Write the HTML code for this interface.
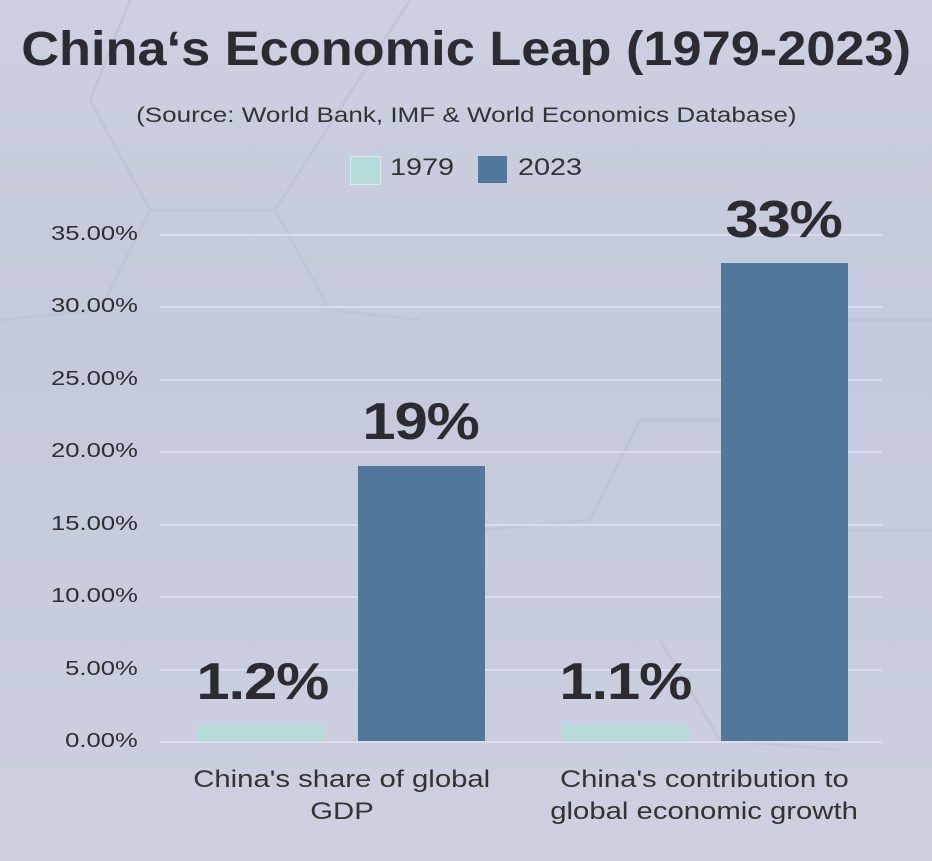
<!DOCTYPE html>
<html><head><style>
body{margin:0;width:932px;height:861px;overflow:hidden;background:linear-gradient(180deg,#ccd0e0 0%,#c4c9db 40%,#ccd0df 100%);font-family:"Liberation Sans",sans-serif;color:#2b2b30;position:relative}
.a{position:absolute}
.s{display:inline-block;transform-origin:center}
.g{position:absolute;left:160px;width:722px;height:2px;background:#d9dcea}
.y{position:absolute;left:10px;width:128px;text-align:right;font-size:20px;color:#2e2e34}
.y span{display:inline-block;transform:scaleX(1.28);transform-origin:right}
.v{position:absolute;font-weight:bold;font-size:52px;text-align:center;width:200px;color:#2b2b30;letter-spacing:-1px}
.v span{display:inline-block;transform:scaleX(1.15)}
.c{position:absolute;font-size:24px;text-align:center;width:360px;line-height:32px;color:#333}
.c span{display:inline-block;transform:scaleX(1.22)}
.l{display:inline-block;transform:scaleX(1.2);transform-origin:left}
</style></head><body>
<svg class="a" style="left:0;top:0" width="932" height="861"><g stroke="#bcc0d4" stroke-width="3" fill="none" opacity="0.6">
<path d="M150 210 L275 210 L320 140 L410 0"/><path d="M150 210 L90 100 L130 0"/><path d="M150 210 L100 310 L0 320"/><path d="M275 210 L330 310 L420 320"/><path d="M640 420 L760 420 L820 320 L932 320"/><path d="M640 420 L590 520 L480 530"/><path d="M760 420 L820 530 L932 530"/><path d="M480 530 L420 640"/><path d="M660 640 L720 740 L840 750"/></g></svg>
<div class="a" style="left:0;top:22px;width:932px;text-align:center;font-weight:bold;font-size:48px;color:#2b2b30"><span class="s" style="transform:scaleX(1.09)">China‘s Economic Leap (1979-2023)</span></div>
<div class="a" style="left:0;top:104px;width:932px;text-align:center;font-size:21px;color:#333"><span class="s" style="transform:scaleX(1.24)">(Source: World Bank, IMF &amp; World Economics Database)</span></div>
<div class="a" style="left:350px;top:156px;width:29px;height:27px;background:#b5dcd8;border:1px solid #d8ecea"></div>
<div class="a" style="left:390px;top:154px;font-size:24px;color:#333"><span class="l">1979</span></div>
<div class="a" style="left:478px;top:156px;width:29px;height:27px;background:#50789b"></div>
<div class="a" style="left:518px;top:154px;font-size:24px;color:#333"><span class="l">2023</span></div>
<div class="g" style="top:234px"></div><div class="g" style="top:306px"></div><div class="g" style="top:379px"></div><div class="g" style="top:451px"></div><div class="g" style="top:524px"></div><div class="g" style="top:596px"></div><div class="g" style="top:669px"></div><div class="g" style="top:741px"></div>
<div class="y" style="top:223px"><span>35.00%</span></div><div class="y" style="top:295px"><span>30.00%</span></div><div class="y" style="top:368px"><span>25.00%</span></div><div class="y" style="top:440px"><span>20.00%</span></div><div class="y" style="top:513px"><span>15.00%</span></div><div class="y" style="top:585px"><span>10.00%</span></div><div class="y" style="top:658px"><span>5.00%</span></div><div class="y" style="top:730px"><span>0.00%</span></div>
<div class="a" style="left:198px;top:724px;width:127px;height:17px;background:#b5dcd8"></div>
<div class="a" style="left:358px;top:466px;width:127px;height:275px;background:#50789b"></div>
<div class="a" style="left:562px;top:724px;width:127px;height:17px;background:#b5dcd8"></div>
<div class="a" style="left:721px;top:263px;width:127px;height:478px;background:#50789b"></div>
<div class="v" style="left:162px;top:652px"><span>1.2%</span></div>
<div class="v" style="left:321px;top:392px"><span>19%</span></div>
<div class="v" style="left:525px;top:652px"><span>1.1%</span></div>
<div class="v" style="left:684px;top:190px"><span>33%</span></div>
<div class="c" style="left:162px;top:764px"><span>China's share of global</span><br><span>GDP</span></div>
<div class="c" style="left:524px;top:764px"><span>China's contribution to</span><br><span>global economic growth</span></div>
</body></html>
